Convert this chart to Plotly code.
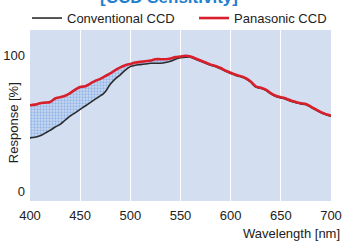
import plotly.graph_objects as go

# Wavelength [nm]
wl_conv = [400, 405, 410, 415, 420, 425, 430, 435, 440, 445, 450, 455, 460, 465, 470, 473, 476,
           480, 485, 490, 495, 500, 505, 510, 515, 520, 525, 530, 535, 540, 545, 550, 555, 560,
           565, 570, 575, 580, 585, 590, 595, 600, 605, 610, 615, 620, 625, 630, 635, 640, 645,
           650, 655, 660, 665, 670, 675, 680, 685, 690, 695, 700]
conv = [39.5, 40, 41, 43, 45, 47.5, 49.5, 52.5, 55.5, 58, 60.5, 63, 65.5, 68, 70.5, 72, 74.5,
        79, 83, 86, 89.5, 92, 93, 93.5, 94, 94.5, 94.5, 94.5, 95, 96, 97.5, 98.5, 99, 99,
        97.5, 96, 94.5, 93, 92, 90.5, 88.5, 87, 85.5, 84.5, 83, 80.5, 77, 76, 74.5, 72, 70,
        69, 68, 66.5, 65.5, 64.5, 64, 62, 60, 58, 56.5, 55.5]

wl_pana = [400, 405, 410, 415, 420, 425, 430, 435, 440, 445, 450, 455, 460, 465, 470, 475, 480,
           485, 490, 495, 500, 505, 510, 515, 520, 525, 530, 535, 540, 545, 550, 555, 560, 565,
           570, 575, 580, 585, 590, 595, 600, 605, 610, 615, 620, 625, 630, 635, 640, 645, 650,
           655, 660, 665, 670, 675, 680, 685, 690, 695, 700]
pana = [63.5, 64, 65, 65.5, 66, 68.5, 69.5, 70.5, 72.5, 75, 77, 77.5, 79.5, 81.5, 83, 85, 87,
        89.5, 91.5, 93, 94, 95, 95.5, 96, 96.5, 97.5, 97.5, 97.5, 98, 99, 99.5, 100, 99.5, 98,
        96.5, 95, 93.5, 92.5, 91, 89, 87.5, 86, 85, 83.5, 81, 77.5, 76.5, 75, 72.5, 70.5, 69.5,
        68.5, 67, 66, 65, 64.5, 62.5, 60.5, 58.5, 57, 56]

x_ticks = [400, 450, 500, 550, 600, 650, 700]
y_ticks = [0, 100]

FONT = "Liberation Sans"

fig = go.Figure()
fig.add_trace(go.Scatter(
    x=wl_conv, y=conv, mode="lines", name="Conventional CCD", legend="legend",
    line=dict(color="#2b2b2b", width=1.6), line_shape="spline",
))
# shaded gain region between the two curves (no legend entry)
fig.add_trace(go.Scatter(
    x=wl_pana, y=pana, mode="lines", showlegend=False, hoverinfo="skip",
    line=dict(color="rgba(0,0,0,0)", width=0), line_shape="spline",
    fill="tonexty",
    fillpattern=dict(shape=".", size=3, solidity=0.45, fgcolor="#5e92dc", bgcolor="#c9d9f1"),
))
fig.add_trace(go.Scatter(
    x=wl_pana, y=pana, mode="lines", name="Panasonic CCD", legend="legend2",
    line=dict(color="#d8202c", width=2.6), line_shape="spline",
))

leg_common = dict(orientation="h", yanchor="bottom", xanchor="left", y=0.982,
                  font=dict(size=13, color="#222222"), bgcolor="rgba(0,0,0,0)", itemwidth=30)

fig.update_layout(
    width=342, height=241,
    margin=dict(l=30, r=11, t=30, b=40, autoexpand=False),
    paper_bgcolor="white",
    plot_bgcolor="#d3dff1",
    font=dict(family=FONT, size=13, color="#222222"),
    showlegend=True,
    legend=dict(x=-0.01, **leg_common),
    legend2=dict(x=0.545, **leg_common),
    xaxis=dict(range=[400, 700], tickvals=x_ticks, ticktext=[str(v) for v in x_ticks],
               showgrid=True, gridcolor="white", gridwidth=1.2, zeroline=False,
               showline=False, ticks="", tickfont=dict(size=13), ticklabelstandoff=5),
    yaxis=dict(range=[-7, 119], tickvals=y_ticks, ticktext=[str(v) for v in y_ticks],
               showgrid=False, zeroline=False, showline=False, ticks="",
               tickfont=dict(size=13), ticklabelstandoff=4),
    annotations=[
        dict(text="<b>[CCD Sensitivity]</b>", xref="paper", yref="paper",
             x=(169 - 30) / 301, y=1.124, xanchor="center", yanchor="bottom",
             showarrow=False, font=dict(size=17, color="#1f80cf", family=FONT)),
        dict(text="Response [%]", xref="paper", yref="paper", x=-0.057, y=0.46,
             xanchor="center", yanchor="middle", textangle=-90, showarrow=False,
             font=dict(size=13, color="#222222")),
        dict(text="Wavelength [nm]", xref="paper", yref="paper", x=1.035, y=-0.137,
             xanchor="right", yanchor="top", showarrow=False,
             font=dict(size=13, color="#222222")),
    ],
)

fig.write_html("out.html", config={"displayModeBar": False},
               post_script="document.body.style.margin='0';document.body.style.padding='0';")
